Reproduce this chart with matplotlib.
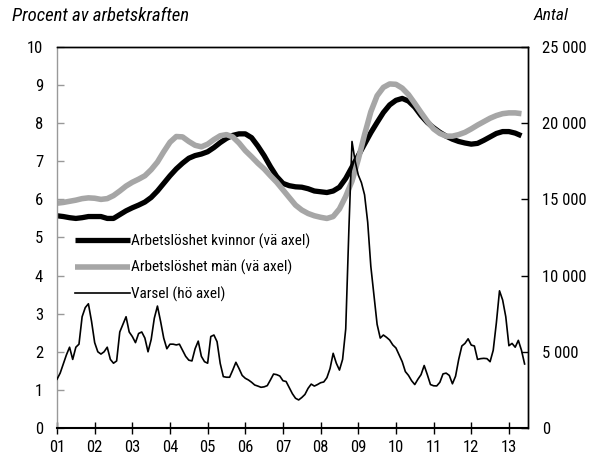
import numpy as np
import matplotlib
matplotlib.use('Agg')
import matplotlib.pyplot as plt

plt.rcParams['font.family'] = ['Liberation Sans Narrow', 'DejaVu Sans Condensed', 'Roboto Condensed', 'DejaVu Sans']
plt.rcParams['font.stretch'] = 'condensed'

# arbetslöshet, procent, varannan månad från jan 2001
months_u = list(range(0, 150, 2))
kvinnor = [5.57, 5.55, 5.52, 5.50, 5.52, 5.55, 5.55, 5.55, 5.50, 5.50,
           5.60, 5.70, 5.78, 5.85, 5.93, 6.05, 6.22, 6.42, 6.62, 6.80,
           6.95, 7.08, 7.15, 7.19, 7.25, 7.36, 7.49, 7.60, 7.68, 7.72,
           7.72, 7.62, 7.40, 7.15, 6.86, 6.60, 6.42, 6.36, 6.33, 6.32,
           6.28, 6.22, 6.20, 6.18, 6.22, 6.32, 6.55, 6.85, 7.15, 7.45,
           7.75, 8.02, 8.28, 8.48, 8.60, 8.65, 8.58, 8.42, 8.20, 8.02,
           7.88, 7.76, 7.66, 7.58, 7.52, 7.48, 7.45, 7.47, 7.55, 7.64,
           7.73, 7.78, 7.78, 7.74, 7.67]
man = [5.90, 5.92, 5.95, 5.98, 6.02, 6.04, 6.03, 6.00, 6.02, 6.10,
       6.22, 6.35, 6.45, 6.53, 6.62, 6.78, 6.98, 7.25, 7.50, 7.65,
       7.64, 7.52, 7.42, 7.38, 7.45, 7.57, 7.67, 7.70, 7.64, 7.48,
       7.28, 7.12, 6.95, 6.80, 6.62, 6.45, 6.25, 6.05, 5.85, 5.72,
       5.63, 5.57, 5.53, 5.50, 5.55, 5.75, 6.08, 6.48, 7.05, 7.70,
       8.30, 8.72, 8.94, 9.03, 9.02, 8.92, 8.75, 8.52, 8.28, 8.05,
       7.85, 7.73, 7.66, 7.66, 7.70, 7.76, 7.85, 7.95, 8.04, 8.13,
       8.20, 8.25, 8.27, 8.27, 8.25]

# varsel, antal per månad från jan 2001
varsel = [3200, 3600, 4200, 4800, 5300, 4500, 5300, 5500, 7300, 7900,
          8150, 7000, 5600, 5000, 4850, 5000, 5300, 4500, 4250, 4400,
          6300, 6800, 7300, 6300, 6000, 5600, 6200, 6300, 5900, 5000,
          5800, 7200, 8000, 7000, 5900, 5200, 5500, 5500, 5450, 5500,
          5100, 4700, 4450, 4400, 5200, 5700, 4700, 4350, 4250, 6000,
          6100, 5660, 4240, 3370, 3330, 3330, 3800, 4310, 3900, 3450,
          3260, 3150, 3000, 2820, 2750, 2670, 2700, 2780, 3150, 3540,
          3500, 3410, 3100, 3050, 2650, 2250, 1950, 1840, 2000, 2200,
          2600, 2880, 2750, 2850, 2970, 3020, 3300, 3900, 4900, 4250,
          3800, 4500, 6500, 13000, 18800, 17500, 16600, 16100, 15300, 13500,
          10600, 8700, 6800, 5900, 6100, 5950, 5770, 5450, 5250, 4800,
          4350, 3700, 3450, 3100, 2850, 3200, 3500, 4100, 3500, 2850,
          2770, 2760, 3000, 3550, 3600, 3450, 2900, 3400, 4500, 5380,
          5550, 5850, 5440, 5380, 4500, 4550, 4570, 4550, 4350, 5100,
          6900, 9000, 8400, 7300, 5400, 5550, 5300, 5750, 5100, 4200]
months_v = list(range(len(varsel)))

year_labels = ['01', '02', '03', '04', '05', '06', '07', '08', '09', '10', '11', '12', '13']
right_labels = ['0', '5 000', '10 000', '15 000', '20 000', '25 000']

fig = plt.figure(figsize=(5.89, 4.54), dpi=100)
ax = fig.add_axes([0.0968, 0.0573, 0.7992, 0.8392])
ax2 = ax.twinx()

l1, = ax.plot(months_u, kvinnor, color='black', lw=3.8, solid_capstyle='butt',
              label='Arbetslöshet kvinnor (vä axel)')
l2, = ax.plot(months_u, man, color='#a6a6a6', lw=4.0, solid_capstyle='butt',
              label='Arbetslöshet män (vä axel)')
l3, = ax2.plot(months_v, varsel, color='black', lw=1.2,
               label='Varsel (hö axel)')

ax.set_xlim(0, 150)
ax.set_ylim(0, 10)
ax2.set_ylim(0, 25000)

ax.set_xticks(range(0, 145, 12))
ax.set_xticklabels(year_labels)
ax.set_yticks(range(0, 11))
ax2.set_yticks(range(0, 25001, 5000))
ax2.set_yticklabels(right_labels)

for a in (ax, ax2):
    for s in a.spines.values():
        s.set_linewidth(1.0)
ax.spines['left'].set_color('#999999')
ax.spines['bottom'].set_linewidth(1.5)
ax2.spines['left'].set_visible(False)
ax2.spines['bottom'].set_visible(False)

ax.tick_params(axis='x', direction='inout', length=8, width=1, labelsize=12, pad=5)
ax.tick_params(axis='y', direction='in', length=5, width=1, color='#999999',
               labelsize=12, pad=10)
ax2.tick_params(axis='y', direction='in', length=5, width=1, labelsize=12, pad=10)

ax.legend(handles=[l1, l2, l3], loc='upper left', bbox_to_anchor=(0.025, 0.527),
          frameon=False, fontsize=11, handlelength=3.6, handletextpad=0.1,
          labelspacing=0.75, borderaxespad=0)

fig.text(0.02, 0.965, 'Procent av arbetskraften', fontsize=13.5, style='italic',
         ha='left', va='center')
fig.text(0.965, 0.965, 'Antal', fontsize=12.5, style='italic', ha='right', va='center')

fig.savefig('out.png', dpi=100)
